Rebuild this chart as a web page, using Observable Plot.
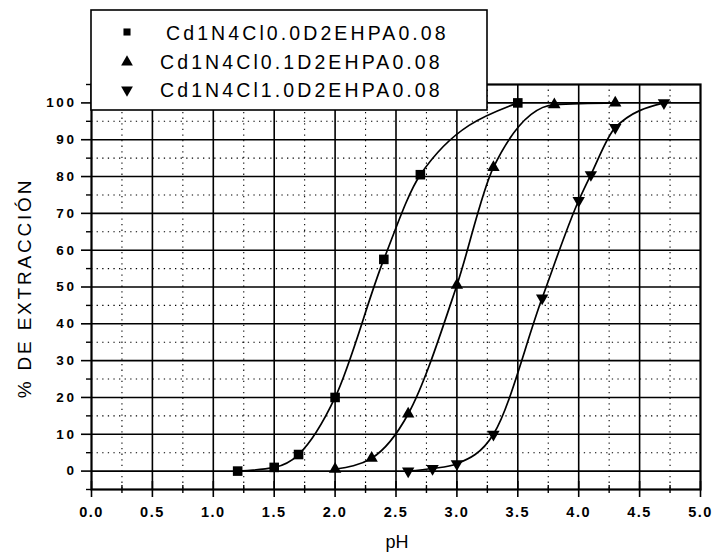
<!DOCTYPE html>
<html>
<head>
<meta charset="utf-8">
<script src="https://cdn.jsdelivr.net/npm/d3@7"></script>
<script src="https://cdn.jsdelivr.net/npm/@observablehq/plot@0.6"></script>
<style>
  html, body { margin: 0; padding: 0; background: #fff; }
  svg { display: block; }
</style>
</head>
<body>
<div id="chart"></div>
<script>
// ---- data ----
const seriesNames = ["Cd1N4Cl0.0D2EHPA0.08", "Cd1N4Cl0.1D2EHPA0.08", "Cd1N4Cl1.0D2EHPA0.08"];
const s1pH  = [1.2, 1.5, 1.7, 2.0, 2.4, 2.7, 3.5];
const s1Ext = [0, 1, 4.5, 20, 57.5, 80.5, 100];
const s2pH  = [2.0, 2.3, 2.6, 3.0, 3.3, 3.8, 4.3];
const s2Ext = [0.5, 3.5, 15.5, 50.5, 82.5, 99.5, 100];
const s3pH  = [2.6, 2.8, 3.0, 3.3, 3.7, 4.0, 4.1, 4.3, 4.7];
const s3Ext = [0, 0.7, 2, 10, 47, 73.5, 80.5, 93.3, 100];

const xMajorTicks = [0, 0.5, 1, 1.5, 2, 2.5, 3, 3.5, 4, 4.5, 5];
const xMinorTicks = [0.25, 0.75, 1.25, 1.75, 2.25, 2.75, 3.25, 3.75, 4.25, 4.75];
const yMajorTicks = [0, 10, 20, 30, 40, 50, 60, 70, 80, 90, 100];
const yMinorTicks = [-5, 5, 15, 25, 35, 45, 55, 65, 75, 85, 95, 105];
const xLabel = "pH";
const yLabel = "% DE EXTRACCIÓN";

// ---- build tables ----
const toRows = (xs, ys) => xs.map((x, i) => ({pH: x, ext: ys[i]}));
const d1 = toRows(s1pH, s1Ext);
const d2 = toRows(s2pH, s2Ext);
const d3r = toRows(s3pH, s3Ext);

// inverted triangle symbol
const triangleDown = {
  draw(ctx, size) {
    const y = Math.sqrt(size / (Math.sqrt(3) * 3));
    ctx.moveTo(0, 2 * y);
    ctx.lineTo(-Math.sqrt(3) * y, -y);
    ctx.lineTo(Math.sqrt(3) * y, -y);
    ctx.closePath();
  }
};

const W = 713, H = 553;
const innerXMajor = xMajorTicks.filter(v => v > 0 && v < 5);

const svg = Plot.plot({
  width: W,
  height: H,
  marginLeft: 91,
  marginRight: 13,
  marginTop: 84,
  marginBottom: 64,
  style: {fontFamily: "'Liberation Sans', Arial, sans-serif", fontSize: "13px", fontWeight: "bold", color: "#000", background: "#fff"},
  x: {domain: [0, 5]},
  y: {domain: [-5, 105]},
  marks: [
    // grid
    Plot.ruleX(xMinorTicks, {stroke: "#000", strokeWidth: 1.1, strokeDasharray: "1.3,4.3"}),
    Plot.ruleY(yMinorTicks.filter(v => v > -5 && v < 105), {stroke: "#000", strokeWidth: 1.1, strokeDasharray: "1.3,4.3"}),
    Plot.ruleX(innerXMajor, {stroke: "#000", strokeWidth: 1.6}),
    Plot.ruleY(yMajorTicks, {stroke: "#000", strokeWidth: 1.6}),
    // axes
    Plot.axisY({ticks: yMajorTicks, tickSize: 10, tickPadding: 5, tickFormat: d => String(d), label: null, strokeWidth: 1.6}),
    Plot.axisY({ticks: yMinorTicks, tickSize: 5, text: null, label: null, strokeWidth: 1.4}),
    Plot.axisX({ticks: xMajorTicks, tickSize: 8, tickPadding: 9, tickFormat: d => d.toFixed(1), label: null, strokeWidth: 1.6}),
    Plot.axisX({ticks: xMajorTicks, tickSize: -8, text: null, label: null, strokeWidth: 1.6}),
    Plot.axisX({ticks: xMinorTicks, tickSize: 4, text: null, label: null, strokeWidth: 1.4}),
    Plot.axisX({ticks: xMinorTicks, tickSize: -4, text: null, label: null, strokeWidth: 1.4}),
    Plot.frame({stroke: "#000", strokeWidth: 2.2}),
    // curves
    Plot.line(d1, {x: "pH", y: "ext", curve: "monotone-x", stroke: "#000", strokeWidth: 1.7}),
    Plot.line(d2, {x: "pH", y: "ext", curve: "monotone-x", stroke: "#000", strokeWidth: 1.7}),
    Plot.line(d3r, {x: "pH", y: "ext", curve: "monotone-x", stroke: "#000", strokeWidth: 1.7}),
    // points
    Plot.dot(d1, {x: "pH", y: "ext", symbol: "square", r: 5.4, fill: "#000", stroke: "none"}),
    Plot.dot(d2, {x: "pH", y: "ext", symbol: "triangle", r: 4.6, fill: "#000", stroke: "none"}),
    Plot.dot(d3r, {x: "pH", y: "ext", symbol: triangleDown, r: 4.6, fill: "#000", stroke: "none"})
  ]
});

const root = d3.select(svg);
const font = "'Liberation Sans', Arial, sans-serif";

// tick label styling (wide tracking, bold, as in the scanned original)
root.selectAll("g[aria-label='y-axis tick label'] text")
  .style("font-size", "13.5px").style("font-weight", "bold").style("font-family", font)
  .style("letter-spacing", "2.6px");
root.selectAll("g[aria-label='x-axis tick label'] text")
  .style("font-size", "14.5px").style("font-weight", "bold").style("font-family", font)
  .style("letter-spacing", "1.5px");

// axis titles
root.append("text")
  .attr("transform", "translate(31,288) rotate(-90)")
  .attr("text-anchor", "middle")
  .style("font-family", font)
  .style("font-size", "19px")
  .style("font-weight", "normal")
  .style("letter-spacing", "2.8px")
  .attr("fill", "#000")
  .text(yLabel);

root.append("text")
  .attr("x", 397)
  .attr("y", 548)
  .attr("text-anchor", "middle")
  .style("font-family", font)
  .style("font-size", "18px")
  .style("font-weight", "normal")
  .attr("fill", "#000")
  .text(xLabel);

// legend
const lg = root.append("g");
lg.append("rect")
  .attr("x", 91).attr("y", 10).attr("width", 396).attr("height", 100)
  .attr("fill", "#fff").attr("stroke", "#000").attr("stroke-width", 1.6);
const legSymbols = [d3.symbolSquare, d3.symbolTriangle, triangleDown];
const legSizes = [50, 60, 60];
const legRowY = [32, 62, 90];
const legTextX = [166, 160, 160];
const legBaseline = [39.5, 68.5, 96.5];
seriesNames.forEach((name, i) => {
  lg.append("path")
    .attr("transform", `translate(127,${legRowY[i]})`)
    .attr("d", d3.symbol(legSymbols[i], legSizes[i])())
    .attr("fill", "#000");
  lg.append("text")
    .attr("x", legTextX[i])
    .attr("y", legBaseline[i])
    .attr("text-anchor", "start")
    .style("font-family", font)
    .style("font-size", "19.5px")
    .style("font-weight", "normal")
    .style("letter-spacing", "3.1px")
    .attr("fill", "#000")
    .text(name);
});

document.getElementById("chart").appendChild(svg);
</script>
</body>
</html>
